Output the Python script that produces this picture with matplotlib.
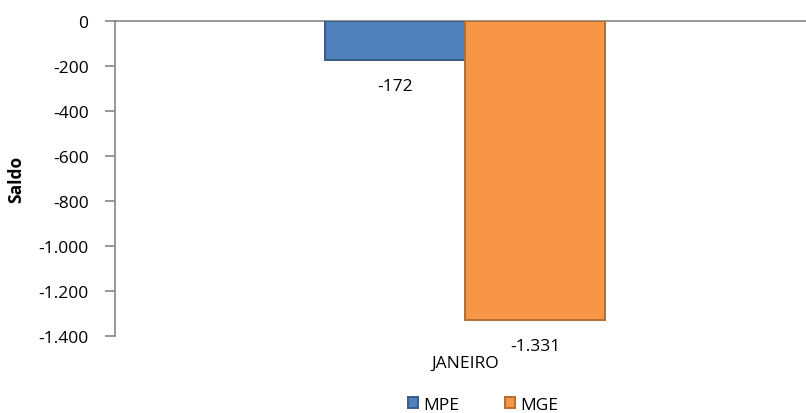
import matplotlib
matplotlib.use('Agg')
import matplotlib.pyplot as plt
from matplotlib.ticker import FuncFormatter, MultipleLocator

categories = ['JANEIRO']
series = ['MPE', 'MGE']
values = {'MPE': [-172], 'MGE': [-1331]}
colors = {'MPE': '#4F81BD', 'MGE': '#F79646'}
edges = {'MPE': '#385D8A', 'MGE': '#B66D31'}


def fmt(v):
    return '{:,.0f}'.format(v).replace(',', '.')


plt.rcParams['font.family'] = ['Open Sans', 'DejaVu Sans']
fs = 12.5

fig = plt.figure(figsize=(8.06, 4.14), dpi=100)
ax = fig.add_axes([115 / 806, 1 - 337 / 414, 1 - 115 / 806, 315 / 414])

width = 0.2
offsets = [-width / 2, width / 2]
for s, off in zip(series, offsets):
    xs = [i + off for i in range(len(categories))]
    bars = ax.bar(xs, values[s], width=width, color=colors[s], edgecolor=edges[s],
                  linewidth=1.4, label=s, zorder=3)
    for b, v in zip(bars, values[s]):
        ax.annotate(fmt(v), (b.get_x() + b.get_width() / 2, v), xytext=(0, -26),
                    textcoords='offset pixels', ha='center', va='center', fontsize=fs)

ax.set_xlim(-0.5, 0.487)
ax.set_ylim(-1400, 0)
ax.yaxis.set_major_locator(MultipleLocator(200))
ax.yaxis.set_major_formatter(FuncFormatter(lambda v, p: fmt(v)))
ax.set_xticks([])
for i, c in enumerate(categories):
    ax.annotate(c, (i, -1400), xytext=(0, -27), textcoords='offset pixels',
                ha='center', va='center', fontsize=fs)

for side in ['bottom', 'right']:
    ax.spines[side].set_visible(False)
for side in ['left', 'top']:
    ax.spines[side].set_color('#868686')
    ax.spines[side].set_linewidth(1.2)
ax.tick_params(axis='y', direction='out', length=7, color='#868686', width=1.2,
               labelsize=fs, pad=12)
ax.set_ylabel('Saldo', fontsize=fs, fontweight='bold')
ax.yaxis.set_label_coords(-(115 - 25) / 691, 0.5)

fig.legend(loc='center', bbox_to_anchor=(483 / 806, 1 - 406 / 414), ncol=2, frameon=False,
           fontsize=fs, handlelength=0.6, handleheight=0.6, columnspacing=2.6,
           handletextpad=0.3)

fig.savefig('out.png', dpi=100)
